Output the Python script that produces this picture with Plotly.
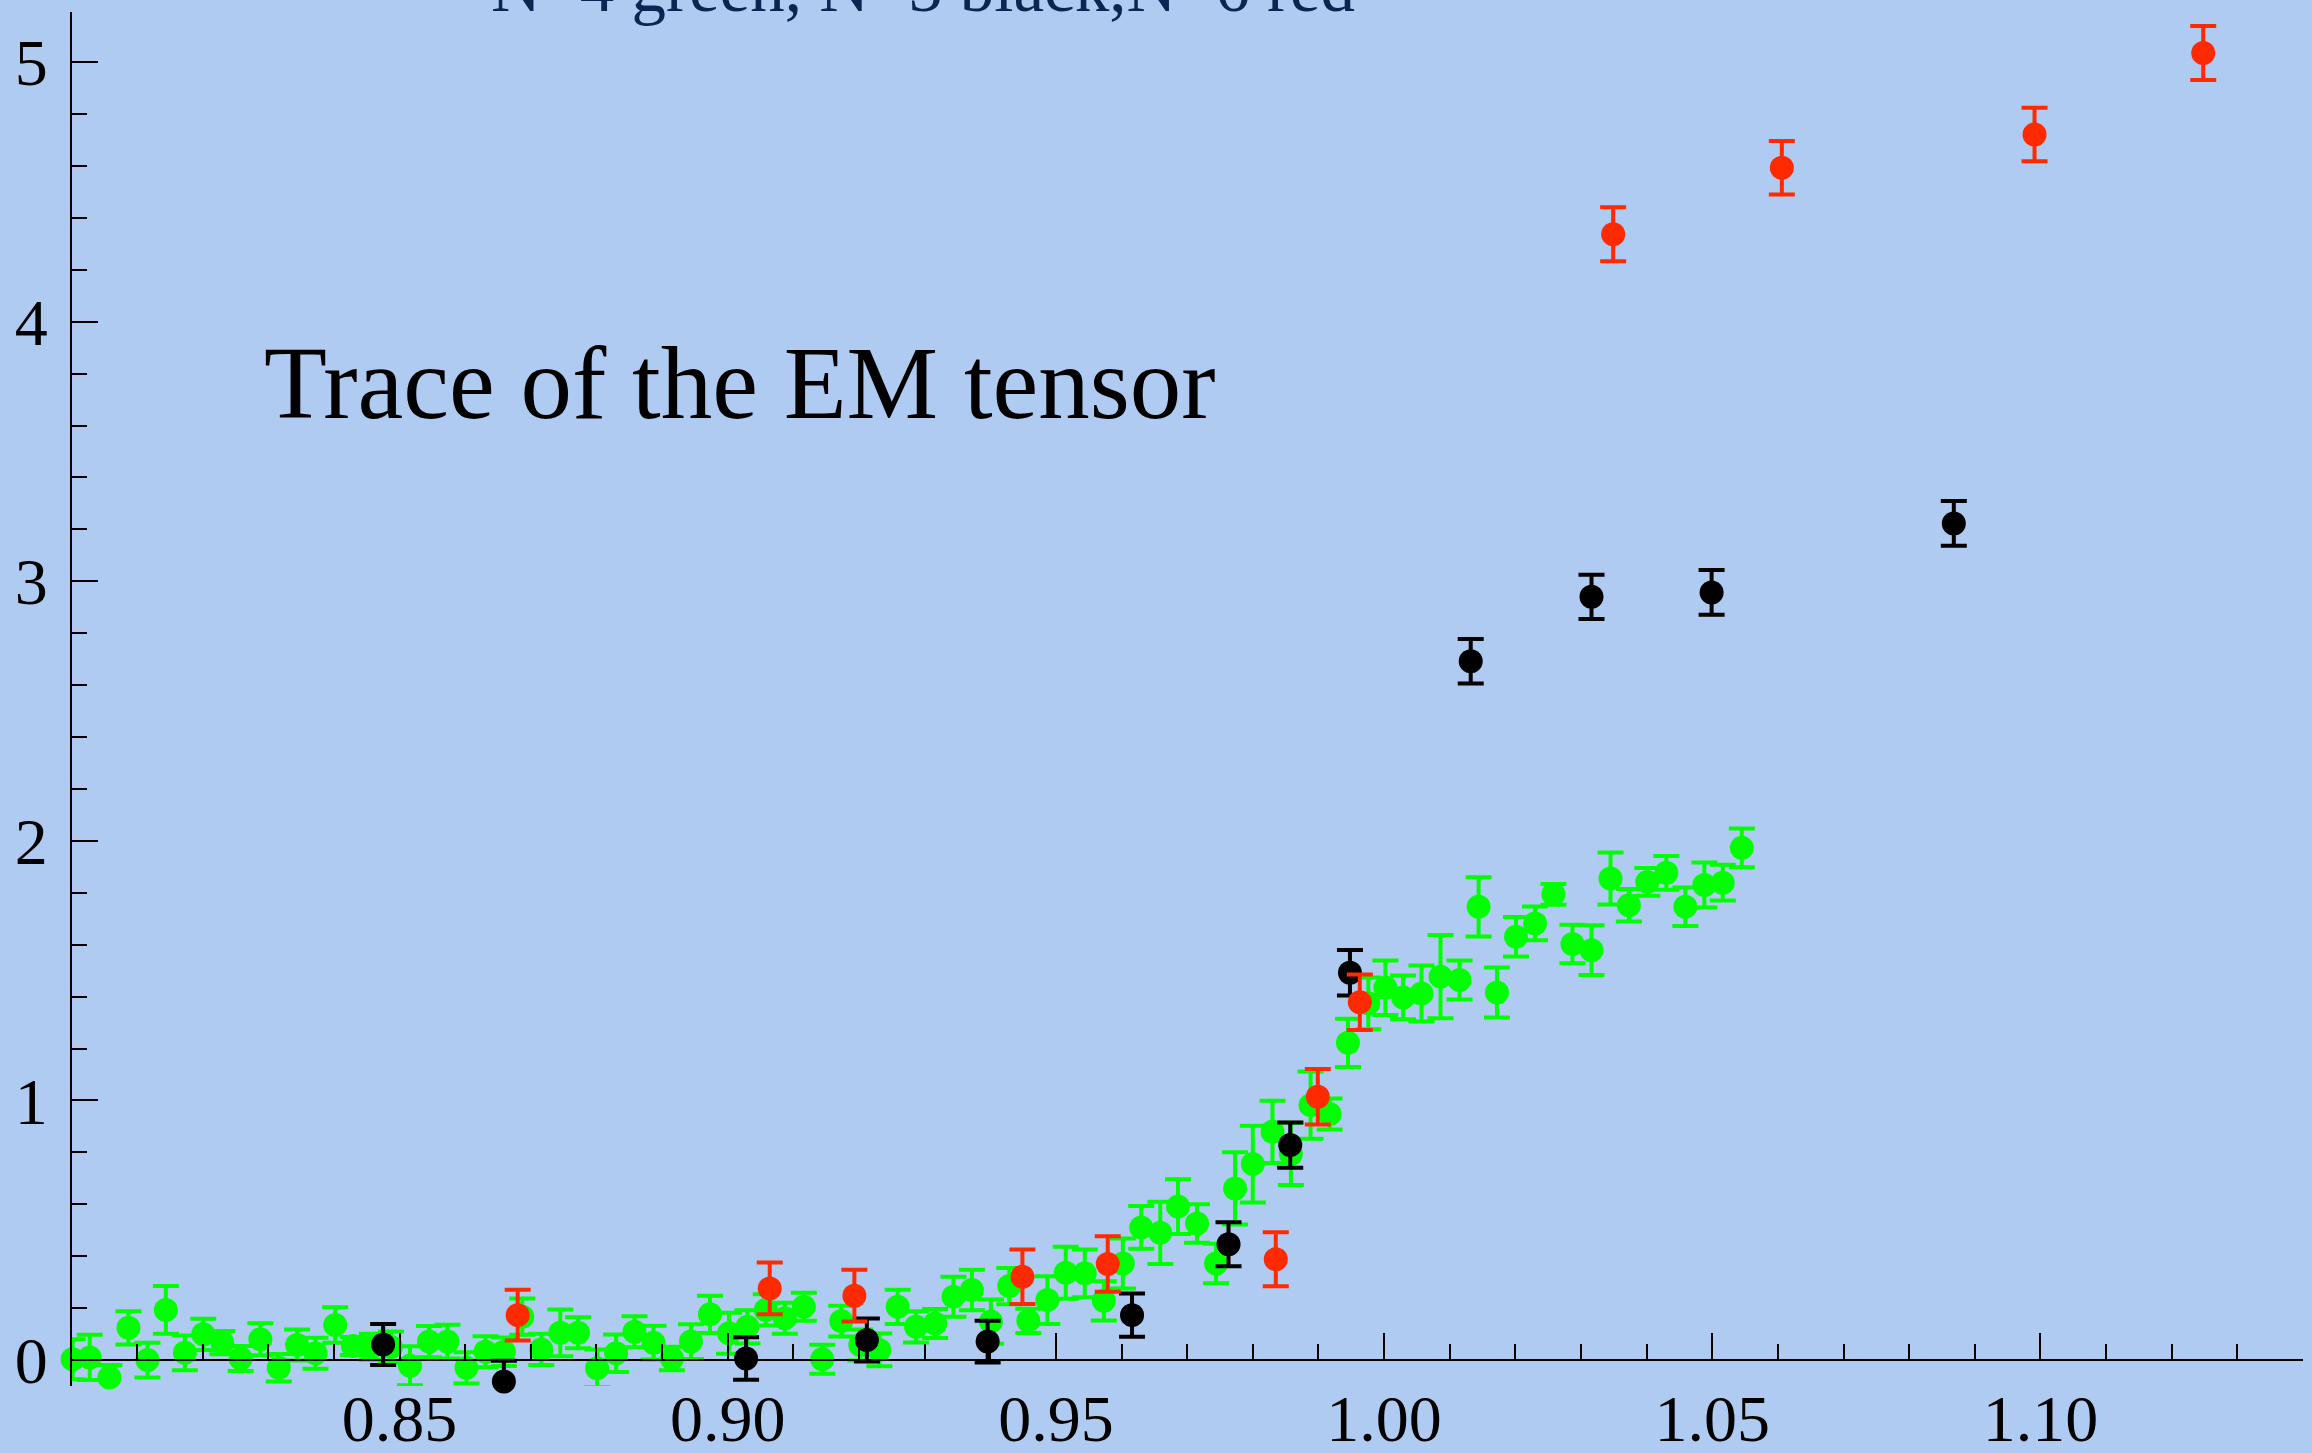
import plotly.graph_objects as go

# ---------------- data ----------------
green_x = [0.8002, 0.8028, 0.8058, 0.8087, 0.8116, 0.8144, 0.8173, 0.8201, 0.8230, 0.8258,
           0.8288, 0.8316, 0.8344, 0.8372, 0.8402, 0.8429, 0.8458, 0.8487, 0.8516, 0.8545,
           0.8573, 0.8602, 0.8631, 0.8659, 0.8687, 0.8716, 0.8745, 0.8772, 0.8801, 0.8830,
           0.8858, 0.8887, 0.8915, 0.8944, 0.8973, 0.9002, 0.9030, 0.9058, 0.9087, 0.9116,
           0.9144, 0.9173, 0.9202, 0.9231, 0.9259, 0.9287, 0.9316, 0.9344, 0.9372, 0.9401,
           0.9429, 0.9458, 0.9487, 0.9515, 0.9544, 0.9573, 0.9602, 0.9630, 0.9659, 0.9686,
           0.9715, 0.9744, 0.9773, 0.9800, 0.9830, 0.9858, 0.9888, 0.9917, 0.9945, 0.9976,
           1.0002, 1.0029, 1.0057, 1.0086, 1.0115, 1.0144, 1.0172, 1.0201, 1.0230, 1.0258,
           1.0287, 1.0316, 1.0345, 1.0373, 1.0401, 1.0430, 1.0459, 1.0488, 1.0516, 1.0545]
green_y = [0.003, 0.010, -0.067, 0.124, 0.000, 0.193, 0.028, 0.099, 0.067, 0.006,
           0.080, -0.030, 0.058, 0.026, 0.135, 0.054, 0.051, 0.050, -0.022, 0.071,
           0.071, -0.030, 0.032, 0.032, 0.167, 0.041, 0.105, 0.105, -0.032, 0.026,
           0.109, 0.067, 0.006, 0.071, 0.176, 0.103, 0.128, 0.193, 0.161, 0.205,
           0.003, 0.150, 0.058, 0.039, 0.205, 0.128, 0.141, 0.244, 0.270, 0.148,
           0.285, 0.151, 0.231, 0.336, 0.334, 0.228, 0.372, 0.511, 0.490, 0.591,
           0.526, 0.372, 0.661, 0.755, 0.879, 0.794, 0.982, 0.948, 1.222, 1.374,
           1.434, 1.397, 1.412, 1.477, 1.464, 1.746, 1.416, 1.631, 1.682, 1.794,
           1.603, 1.579, 1.855, 1.752, 1.842, 1.877, 1.746, 1.830, 1.839, 1.973]
green_err = [0.077, 0.087, 0.048, 0.064, 0.067, 0.092, 0.067, 0.060, 0.045, 0.048,
             0.062, 0.053, 0.060, 0.060, 0.068, 0.035, 0.050, 0.060, 0.075, 0.060,
             0.065, 0.060, 0.060, 0.055, 0.070, 0.060, 0.090, 0.060, 0.073, 0.072,
             0.060, 0.065, 0.045, 0.067, 0.072, 0.079, 0.064, 0.060, 0.060, 0.054,
             0.056, 0.059, 0.060, 0.063, 0.066, 0.060, 0.056, 0.077, 0.078, 0.085,
             0.070, 0.047, 0.092, 0.100, 0.092, 0.076, 0.096, 0.082, 0.120, 0.105,
             0.074, 0.076, 0.139, 0.148, 0.120, 0.120, 0.130, 0.060, 0.093, 0.100,
             0.105, 0.084, 0.108, 0.160, 0.075, 0.114, 0.096, 0.076, 0.065, 0.040,
             0.074, 0.096, 0.100, 0.063, 0.053, 0.065, 0.074, 0.087, 0.069, 0.075]

black_x = [0.8475, 0.8659, 0.9028, 0.9212, 0.9396, 0.9616, 0.9763, 0.9857, 0.9948,
           1.0132, 1.0316, 1.0499, 1.0868]
black_y = [0.060, -0.083, 0.006, 0.077, 0.071, 0.173, 0.446, 0.828, 1.492,
           2.692, 2.940, 2.957, 3.223]
black_err = [0.079, 0.080, 0.082, 0.083, 0.080, 0.083, 0.085, 0.087, 0.088,
             0.086, 0.085, 0.086, 0.086]

red_x = [0.8680, 0.9064, 0.9193, 0.9449, 0.9579, 0.9835, 0.9899, 0.9963,
         1.0349, 1.0606, 1.0991, 1.1248]
red_y = [0.173, 0.276, 0.248, 0.321, 0.370, 0.388, 1.014, 1.378,
         4.337, 4.593, 4.721, 5.035]
red_err = [0.098, 0.100, 0.100, 0.105, 0.107, 0.104, 0.107, 0.107,
           0.104, 0.103, 0.103, 0.104]

title_text = "Trace of the EM tensor"
legend_text = "N=4 green, N=5 black,N=6 red"

# ---------------- styling ----------------
BG = "#B0CBF1"
FONT = "Liberation Serif, DejaVu Serif, serif"
MSIZE = 24


def series(x, y, err, color):
    return go.Scatter(
        x=x, y=y, mode="markers",
        marker=dict(size=MSIZE, color=color, line=dict(width=0)),
        error_y=dict(type="data", array=err, visible=True, color=color,
                     thickness=4, width=13),
        showlegend=False, cliponaxis=False,
    )


fig = go.Figure()
fig.add_trace(series(green_x, green_y, green_err, "#00FF00"))
fig.add_trace(series(black_x, black_y, black_err, "#000000"))
fig.add_trace(series(red_x, red_y, red_err, "#FF2A00"))

y_lo, y_hi = -0.100, 5.193
x_pos = (0 - y_lo) / (y_hi - y_lo)

fig.update_layout(
    width=2312, height=1453,
    margin=dict(l=72, r=9, t=12, b=67, pad=0, autoexpand=False),
    paper_bgcolor=BG, plot_bgcolor=BG,
    font=dict(family=FONT, color="black", size=66),
    xaxis=dict(
        range=[0.8001, 1.14], anchor="free", position=x_pos, automargin=False,
        showgrid=False, zeroline=False,
        showline=True, linecolor="black", linewidth=2,
        tickmode="linear", tick0=0.85, dtick=0.05, tickformat=".2f",
        ticks="inside", ticklen=26, tickwidth=2, tickcolor="black",
        ticklabelstandoff=1,
        tickfont=dict(family=FONT, size=66, color="black"),
        minor=dict(tickmode="linear", tick0=0.80, dtick=0.01, ticks="inside",
                   ticklen=15, tickwidth=2, tickcolor="black", showgrid=False),
    ),
    yaxis=dict(
        range=[y_lo, y_hi], automargin=False,
        showgrid=False, zeroline=False,
        showline=True, linecolor="black", linewidth=2,
        tickmode="linear", tick0=0, dtick=1,
        ticks="inside", ticklen=26, tickwidth=2, tickcolor="black",
        ticklabelstandoff=9,
        tickfont=dict(family=FONT, size=66, color="black"),
        minor=dict(tickmode="linear", tick0=0, dtick=0.2, ticks="inside",
                   ticklen=15, tickwidth=2, tickcolor="black", showgrid=False),
    ),
    annotations=[
        dict(text=title_text, xref="paper", yref="paper",
             x=(262 - 72) / 2231, y=(1386 - 383) / 1374,
             xanchor="left", yanchor="middle", showarrow=False,
             font=dict(family=FONT, size=103, color="black")),
        dict(text=legend_text, xref="paper", yref="paper",
             x=(489 - 72) / 2231, y=(1386 + 12) / 1374,
             xanchor="left", yanchor="middle", showarrow=False,
             font=dict(family=FONT, size=69, color="#0B2452")),
    ],
)

fig.write_html("out.html")
